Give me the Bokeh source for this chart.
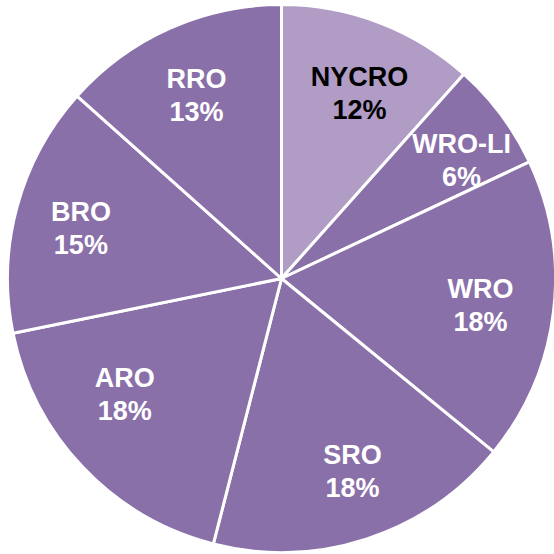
import math
from bokeh.plotting import figure
from bokeh.models import Range1d, ColumnDataSource
from bokeh.core.properties import value
from bokeh.embed import file_html
from bokeh.resources import INLINE

# data
regions = ["NYCRO", "WRO-LI", "WRO", "SRO", "ARO", "BRO", "RRO"]
shares = [11.6, 6.4, 17.9, 18.1, 17.8, 14.8, 13.4]

# styles
colors = ["#B09CC5", "#8A70A9", "#8A70A9", "#8A70A9", "#8A70A9", "#8A70A9", "#8A70A9"]
text_colors = ["#000000", "#FFFFFF", "#FFFFFF", "#FFFFFF", "#FFFFFF", "#FFFFFF", "#FFFFFF"]
label_r = [0.733, 0.785, 0.733, 0.752, 0.712, 0.755, 0.737]
label_nudge_deg = [-2.0, -3.5, -0.7, 2.0, -7.0, 1.0, 0.8]

W = H = 554
cx, cy, R = 281, H - 278, 274

total = sum(shares)
starts, ends, mids = [], [], []
a = math.pi / 2
for s in shares:
    d = 2 * math.pi * s / total
    starts.append(a)
    ends.append(a - d)
    mids.append(a - d / 2)
    a -= d

angs = [m + math.radians(n) for m, n in zip(mids, label_nudge_deg)]
lx = [cx + f * R * math.cos(t) for f, t in zip(label_r, angs)]
ly = [cy + f * R * math.sin(t) for f, t in zip(label_r, angs)]
labels = [f"{r}\n{round(s)}%" for r, s in zip(regions, shares)]

src = ColumnDataSource(dict(start=starts, end=ends, color=colors,
                            lx=lx, ly=ly, label=labels, tc=text_colors))

p = figure(width=W, height=H, output_backend="svg", toolbar_location=None,
           x_range=Range1d(0, W), y_range=Range1d(0, H), min_border=0)
p.axis.visible = False
p.grid.visible = False
p.outline_line_color = None
p.background_fill_color = "white"

p.wedge(x=cx, y=cy, radius=R, start_angle="start", end_angle="end",
        direction="clock", fill_color="color", line_color="white",
        line_width=3, source=src)
p.text(x="lx", y="ly", text="label", text_color="tc", text_align="center",
       text_baseline="middle", text_font=value("Liberation Sans"),
       text_font_style="bold", text_font_size="27px", text_line_height=1.1,
       source=src)

open("out.html", "w").write(file_html(p, INLINE))
